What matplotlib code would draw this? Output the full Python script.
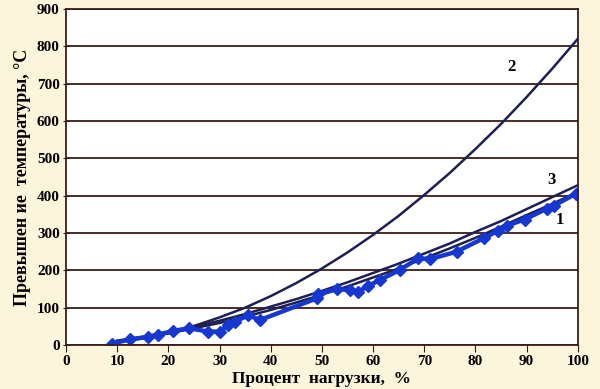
import matplotlib.pyplot as plt

# measured points (blue diamonds)
load_pct = [9, 12.5, 16, 18, 21, 24, 27.8, 30.1, 31.7, 33, 35.6, 37.9,
            49, 49.3, 53, 55.5, 57.1, 59, 61.3, 65.2, 68.8, 71.1, 76.3,
            81.6, 84.4, 86.1, 89.6, 93.9, 95.3, 99.6]
temp_rise = [4, 15, 22, 28, 38, 45, 36, 36, 54, 62, 80, 67,
             125, 138, 150, 147, 143, 158, 174, 201, 232, 230, 250,
             286, 306, 320, 336, 365, 373, 405]

# curves 1, 2, 3
curve_x = [10, 15, 20, 25, 30, 35, 40, 45, 50, 55, 60, 65, 70, 75, 80, 85, 90, 95, 100]
curve1 = [10, 20, 31, 45, 59, 76, 94, 114, 135, 157, 181, 205, 232, 259, 287, 317, 348, 378, 410]
curve2 = [8, 18, 33, 51, 74, 100, 131, 166, 205, 248, 295, 346, 402, 461, 525, 592, 664, 740, 820]
curve3 = [12, 22, 34, 49, 65, 83, 103, 123, 145, 168, 193, 218, 245, 272, 303, 332, 364, 396, 428]

plt.rcParams['font.family'] = ['Liberation Serif', 'DejaVu Serif']
plt.rcParams['font.weight'] = 'bold'

fig = plt.figure(figsize=(6, 3.89), dpi=100, facecolor='#fbf5dc')
ax = fig.add_axes([0.11, 0.113, 0.853, 0.864])
ax.set_facecolor('white')

grid_col = '#3a1e18'
line_col = '#1d1f55'
blue = '#1638d0'

ax.plot(curve_x, curve2, color=line_col, lw=1.8)
ax.plot(curve_x, curve3, color=line_col, lw=1.8)
ax.plot(curve_x, curve1, color=line_col, lw=1.8)
ax.plot(load_pct, temp_rise, color=blue, lw=3.2, marker='D', ms=6,
        markerfacecolor=blue, markeredgecolor=blue)

ax.text(87, 745, '2', fontsize=12, fontweight='bold', ha='center', va='center')
ax.text(94.9, 442, '3', fontsize=12, fontweight='bold', ha='center', va='center')
ax.text(96.5, 336, '1', fontsize=12, fontweight='bold', ha='center', va='center')

ax.set_xlim(0, 100)
ax.set_ylim(0, 900)
ax.set_xticks(range(0, 101, 10))
ax.set_yticks(range(0, 901, 100))
ax.yaxis.grid(True, color=grid_col, lw=1.3)
ax.set_axisbelow(True)
for s in ax.spines.values():
    s.set_color(grid_col)
    s.set_linewidth(1.3)
ax.tick_params(axis='x', direction='out', length=5, color=grid_col, labelsize=11, pad=2)
ax.tick_params(axis='y', direction='inout', length=5, color=grid_col, labelsize=11, pad=2)

ax.set_xlabel('Процент  нагрузки,  %', fontsize=12.5, fontweight='bold', labelpad=2)
ax.set_ylabel('Превышен ие  температуры, °С', fontsize=13, fontweight='bold', labelpad=4)

fig.savefig('out.png', dpi=100, facecolor=fig.get_facecolor())
